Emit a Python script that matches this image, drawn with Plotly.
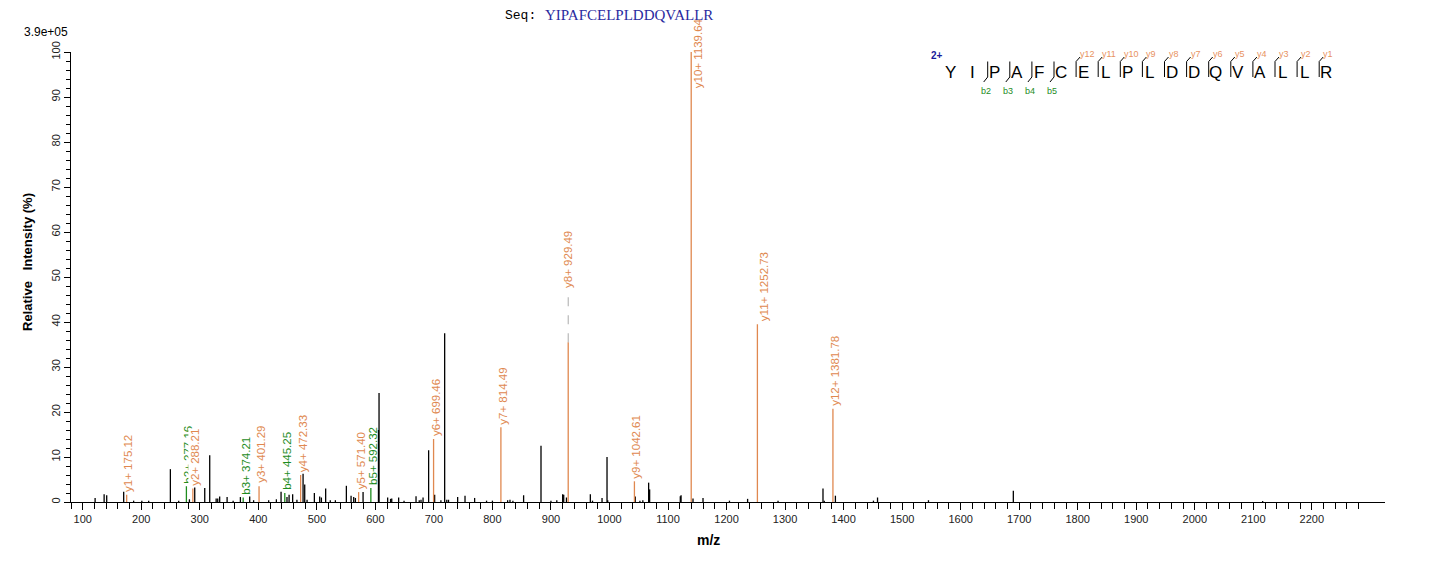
import plotly.graph_objects as go

# unannotated peaks (m/z, relative intensity %)
peak_mz = [121.2, 136.6, 141.0, 170.0, 187.0, 201.0, 212.7, 249.8, 264.0, 282.3,
           291.4, 308.5, 317.0, 328.0, 330.7, 334.0, 346.7, 357.0, 369.4, 385.3,
           392.0, 417.7, 430.9, 438.9, 449.0, 452.6, 458.7, 466.0, 476.5, 479.3,
           483.3, 495.8, 504.9, 507.8, 515.1, 523.0, 531.7, 550.5, 558.5, 563.0,
           565.9, 579.0, 605.3, 606.3, 621.0, 626.0, 628.0, 639.8, 649.0, 669.5,
           675.0, 678.0, 681.5, 691.0, 701.3, 712.0, 718.4, 722.0, 725.0, 740.6,
           753.2, 769.6, 790.0, 800.0, 826.0, 830.0, 835.0, 853.3, 883.0, 900.0,
           910.0, 920.0, 921.8, 926.5, 967.3, 971.0, 987.3, 995.8, 997.0, 1044.0,
           1052.0, 1057.0, 1066.9, 1068.6, 1121.0, 1122.3, 1142.7, 1159.8, 1205.0, 1236.0,
           1288.0, 1364.8, 1367.0, 1386.0, 1451.0, 1458.0, 1545.0, 1690.0, 2116.0]
peak_int = [0.9, 1.7, 1.5, 2.3, 0.3, 0.3, 0.3, 7.3, 0.3, 0.6,
            3.2, 3.1, 10.4, 0.8, 0.8, 1.2, 1.1, 0.3, 1.1, 1.2,
            0.4, 0.4, 0.6, 2.3, 1.1, 1.6, 1.7, 0.5, 6.3, 3.9,
            0.5, 2.0, 1.2, 1.0, 3.0, 0.4, 0.4, 3.6, 1.4, 1.1,
            0.9, 2.2, 16.0, 24.2, 1.0, 0.7, 0.8, 1.0, 0.3, 1.3,
            0.4, 0.5, 1.0, 11.5, 1.6, 0.4, 37.5, 0.5, 0.5, 1.1,
            1.4, 0.9, 0.3, 0.3, 0.4, 0.5, 0.3, 1.5, 12.5, 0.3,
            0.4, 1.7, 1.6, 1.0, 1.7, 0.3, 0.9, 10.0, 0.4, 1.2,
            0.3, 0.4, 4.3, 2.8, 1.3, 1.5, 0.8, 0.9, 0.3, 0.7,
            0.3, 3.0, 0.3, 1.4, 0.3, 1.0, 0.4, 2.5, 0.2]

# annotated fragment ions
ion_names = ["y1+", "b2+", "y2+", "b3+", "y3+", "b4+", "y4+", "y5+", "b5+",
             "y6+", "y7+", "y8+", "y9+", "y10+", "y11+", "y12+"]
ion_mz = [175.12, 277.16, 288.21, 374.21, 401.29, 445.25, 472.33, 571.40, 592.32,
          699.46, 814.49, 929.49, 1042.61, 1139.64, 1252.73, 1381.78]
ion_int = [1.6, 3.5, 3.0, 1.0, 3.5, 2.0, 6.0, 2.2, 3.1,
           14.0, 16.6, 35.5, 4.6, 100.0, 39.5, 20.7]

sequence = "YIPAFCELPLDDQVALLR"
b_ions = [2, 3, 4, 5]
y_ions = [1, 2, 3, 4, 5, 6, 7, 8, 9, 10, 11, 12]

x_ticks = list(range(100, 2201, 100))
x_minor = list(range(80, 2281, 20))
y_ticks = list(range(0, 101, 10))

ORANGE = "#E0884F"
GREEN = "#1E8C1E"
FONT = "Liberation Sans"

# page has an 8px body margin, so work in screen pixels and shift
OFF = 8
W, H = 1436 - 2 * OFF, 562 - 2 * OFF
L, R, T, B = 71, 1385, 52, 502   # plot area on screen


def px(x):
    return (x - L) / (R - L)


def py(y):
    return (B - y) / (B - T)


def sticks(xs, ys):
    sx, sy = [], []
    for x, y in zip(xs, ys):
        sx += [x, x, None]
        sy += [0, y, None]
    return sx, sy


def note(x, y, text, size, color, family=FONT, xanchor="center", yanchor="middle", angle=0):
    fig.add_annotation(xref="paper", yref="paper", x=px(x), y=py(y), text=text, showarrow=False,
                       xanchor=xanchor, yanchor=yanchor, textangle=angle,
                       font=dict(family=family, size=size, color=color))


def seg(x0, y0, x1, y1):
    fig.add_shape(type="line", xref="paper", yref="paper", x0=px(x0), x1=px(x1), y0=py(y0), y1=py(y1),
                  line=dict(color="black", width=1))


fig = go.Figure()
bx, by = sticks(peak_mz, peak_int)
fig.add_trace(go.Scatter(x=bx, y=by, mode="lines", line=dict(color="black", width=1.3), hoverinfo="skip"))
ymz = [m for n, m in zip(ion_names, ion_mz) if n.startswith("y")]
yint = [v for n, v in zip(ion_names, ion_int) if n.startswith("y")]
bmz = [m for n, m in zip(ion_names, ion_mz) if n.startswith("b")]
bint = [v for n, v in zip(ion_names, ion_int) if n.startswith("b")]
ox, oy = sticks(ymz, yint)
gx, gy = sticks(bmz, bint)
fig.add_trace(go.Scatter(x=ox, y=oy, mode="lines", line=dict(color=ORANGE, width=1.3), hoverinfo="skip"))
fig.add_trace(go.Scatter(x=gx, y=gy, mode="lines", line=dict(color=GREEN, width=1.3), hoverinfo="skip"))

# header texts
note(22, 32, "3.9e+05", 12, "black", xanchor="left")
note(503, 15, "Seq:", 13, "black", family="Liberation Mono", xanchor="left")
note(543, 15, sequence, 15, "#2a2aa0", family="Liberation Serif", xanchor="left")
note(27, 262, "<b>Relative\u00a0\u00a0\u00a0Intensity (%)</b>", 13, "black", angle=-90)
note(708, 540, "<b>m/z</b>", 14, "black")

# peak labels (y2+ box hides part of the b2+ label, as in the original)
shifts = {"y8+": (0, 53), "y10+": (7, -37), "y11+": (6, 2)}
for name, mz, inten in zip(ion_names, ion_mz, ion_int):
    dx, dy = shifts.get(name, (2, 2))
    col = ORANGE if name.startswith("y") else GREEN
    fig.add_annotation(x=mz, y=inten, xref="x", yref="y", text=f"{name} {mz:.2f}",
                       showarrow=False, textangle=-90, xanchor="center", yanchor="bottom",
                       xshift=dx, yshift=dy, borderpad=0,
                       bgcolor="white" if name == "y2+" else "rgba(0,0,0,0)",
                       font=dict(family=FONT, size=11.5, color=col))
    if name == "y8+":
        fig.add_shape(type="line", xref="x", yref="y", x0=mz, x1=mz,
                      ysizemode="pixel", yanchor=inten, y0=0, y1=dy,
                      line=dict(color="#aaaaaa", width=1, dash="dash"))

# peptide fragmentation map
def letter_x(i):
    return 950.5 + i * 22.1


note(937, 55, "<b>2+</b>", 10, "#1a1a9a")
for i, aa in enumerate(sequence):
    note(letter_x(i), 72.5, aa, 17, "black")

n = len(sequence)
for k in b_ions:
    lx = letter_x(k) - 7
    seg(lx, 61.5, lx, 77)
    seg(lx, 77, lx - 4, 82)
    note(lx - 2, 91.5, f"b{k}", 9, GREEN)
for k in y_ions:
    lx = letter_x(n - k) - 7
    seg(lx, 61.5, lx, 77)
    seg(lx, 61.5, lx + 4, 57)
    note(lx + 2, 54, f"y{k}", 9, "#E8925F", xanchor="left")

fig.update_layout(
    width=W, height=H,
    margin=dict(l=L - OFF, r=W - (R - OFF), t=T - OFF, b=H - (B - OFF), autoexpand=False),
    plot_bgcolor="white", paper_bgcolor="white",
    showlegend=False,
    font=dict(family=FONT, size=11, color="#222"),
    xaxis=dict(range=[80, 2325], showgrid=False, zeroline=False, showline=True, linecolor="black",
               linewidth=1, ticks="outside", ticklen=7, tickcolor="black", tickvals=x_ticks,
               minor=dict(tickvals=x_minor, ticks="outside", ticklen=6, tickcolor="black"),
               tickfont=dict(family=FONT, size=11, color="#222")),
    yaxis=dict(range=[0, 100], showgrid=False, zeroline=False, showline=True, linecolor="black",
               linewidth=1, ticks="outside", ticklen=6, tickcolor="black", tickvals=y_ticks,
               tickangle=-90, minor=dict(dtick=2, ticks="outside", ticklen=4, tickcolor="black"),
               tickfont=dict(family=FONT, size=11, color="#222")),
)

fig.write_html("out.html")
